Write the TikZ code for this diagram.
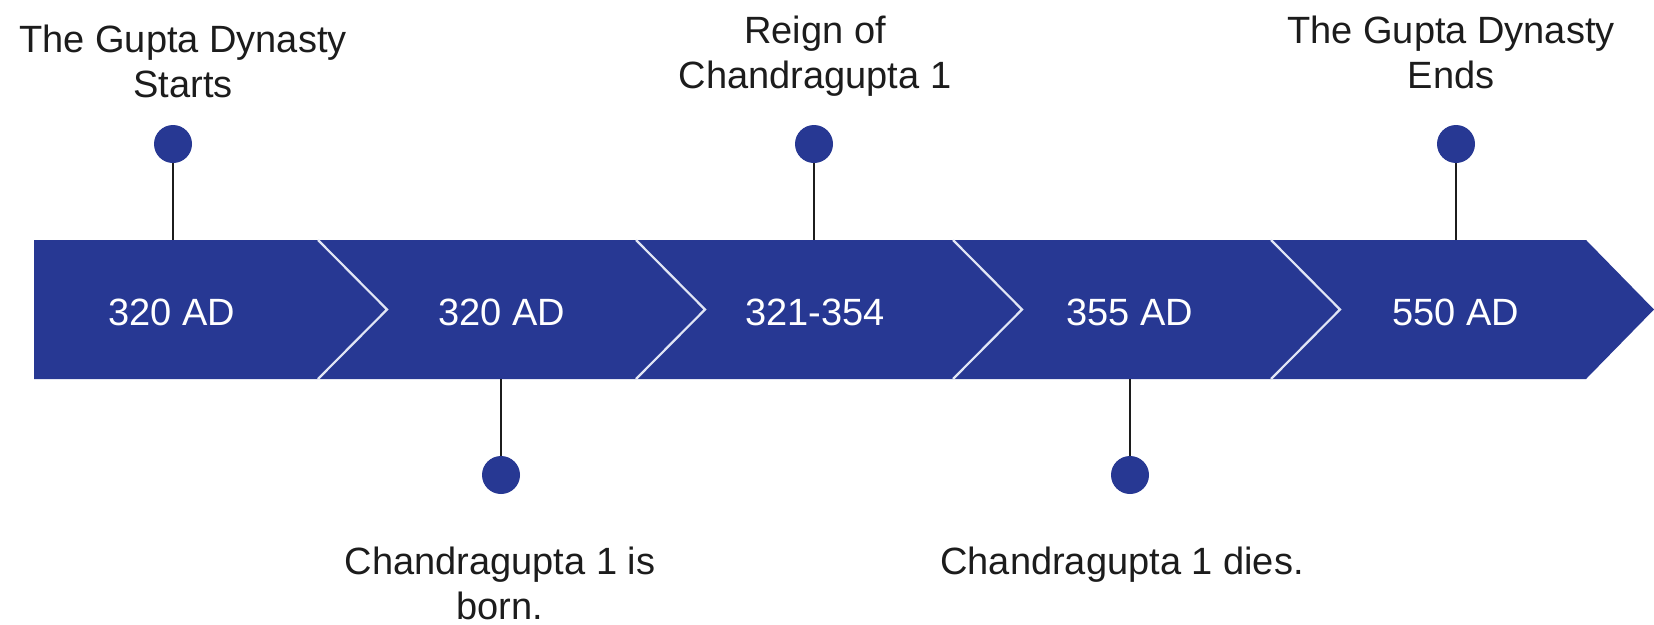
\documentclass[tikz,border=0pt]{standalone}
\usepackage{fontspec}
\setmainfont{Liberation Sans}
\definecolor{band}{RGB}{39,56,147}
\definecolor{ink}{RGB}{28,28,28}
\definecolor{joinline}{RGB}{225,230,245}
\begin{document}
\begin{tikzpicture}[x=1pt,y=-1pt,
  lbl/.style={font=\fontsize{38}{45}\selectfont, text=ink, align=center, inner sep=0pt, anchor=base},
  datelbl/.style={font=\fontsize{38}{45}\selectfont, text=white, inner sep=0pt, anchor=base},
  dot/.style={circle, fill=band, minimum size=38pt, inner sep=0pt},
  stem/.style={draw=ink, line width=1.8pt},
  joinl/.style={draw=joinline, line width=2.2pt}]
\useasboundingbox (0,0) rectangle (1654,624);
\fill[white] (0,0) rectangle (1654,624);
% band
\coordinate (btop) at (0,240);
\coordinate (bbot) at (0,379);
\fill[band] (34,240) -- (1586,240) -- (1654,309.5) -- (1586,379) -- (34,379) -- cycle;
\foreach \x in {318,636,953,1271}{
  \draw[joinl] (\x,240) -- (\x+69,309.5) -- (\x,379);
}
% dates
\node[datelbl] (d1) at (172,325) {320 AD};
\node[datelbl] (d2) at (502,325) {320 AD};
\node[datelbl] (d3) at (815,325) {321-354};
\node[datelbl] (d4) at (1130,325) {355 AD};
\node[datelbl] (d5) at (1456,325) {550 AD};
% dots
\node[dot] (c1) at (173,144) {};
\node[dot] (c2) at (814,144) {};
\node[dot] (c3) at (1456,144) {};
\node[dot] (c4) at (501,475) {};
\node[dot] (c5) at (1130,475) {};
% stems
\draw[stem] (c1.south) -- (c1 |- btop);
\draw[stem] (c2.south) -- (c2 |- btop);
\draw[stem] (c3.south) -- (c3 |- btop);
\draw[stem] (c4.north) -- (c4 |- bbot);
\draw[stem] (c5.north) -- (c5 |- bbot);
% labels (base anchor = baseline of last line)
\node[lbl] (l1) at (183,97) {The Gupta Dynasty\\Starts};
\node[lbl] (l2) at (815,88) {Reign of\\Chandragupta 1};
\node[lbl] (l3) at (1451,88) {The Gupta Dynasty\\Ends};
\node[lbl] (l4) at (500,619) {Chandragupta 1 is\\born.};
\node[lbl] (l5) at (1122,574) {Chandragupta 1 dies.};
\end{tikzpicture}
\end{document}
